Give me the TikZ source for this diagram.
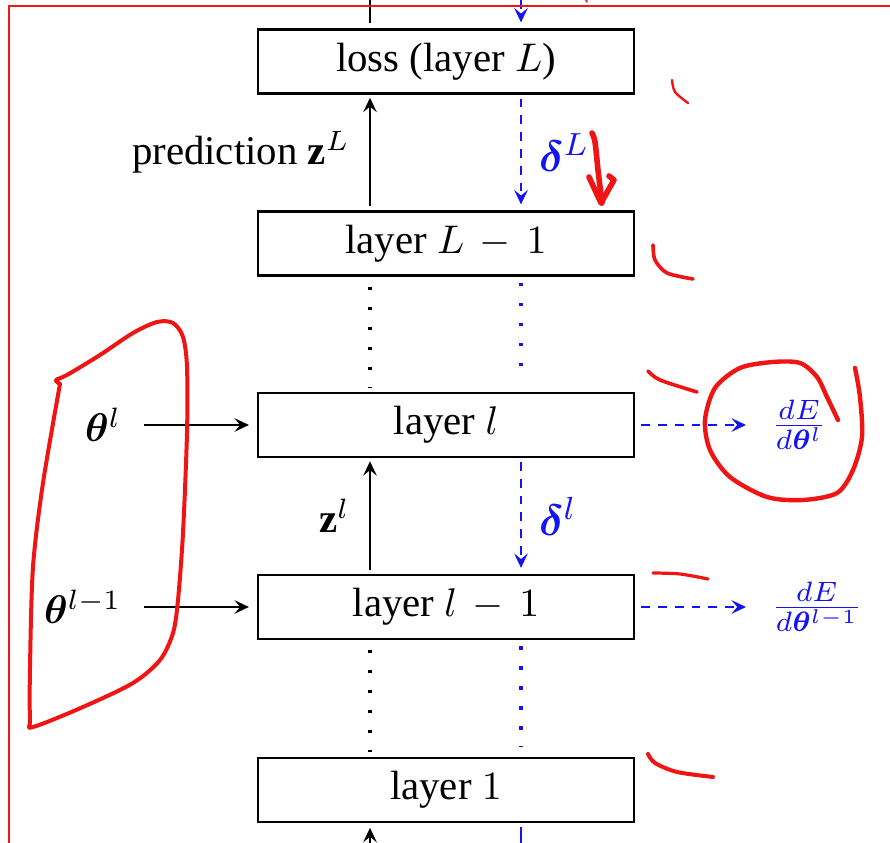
\documentclass[tikz,border=0pt]{standalone}
\usepackage{amsmath}
\usepackage{amssymb}
\usepackage{bm}
\usepackage{fontspec}
\setmainfont{Liberation Serif}
\usepackage{tikz}
\usetikzlibrary{arrows.meta}
\usepackage{xcolor}
\definecolor{inkred}{RGB}{240,20,20}
\definecolor{gradblue}{RGB}{20,20,240}

\begin{document}
\begin{tikzpicture}[x=0.25pt, y=-0.25pt,
  font=\fontsize{10.2}{12.5}\selectfont,
  >={Stealth[length=3.6pt, width=3.4pt, inset=1.4pt]},
  layerbox/.style={draw, line width=0.55pt, minimum width=94pt,
                   minimum height=16pt, inner sep=0pt},
  fwd/.style={->, line width=0.45pt},
  bwd/.style={->, gradblue, line width=0.45pt, dash pattern=on 2.2pt off 2pt},
  skipfwd/.style={line width=0.8pt, dash pattern=on 0.8pt off 4.2pt},
  skipbwd/.style={skipfwd, gradblue},
  errlabel/.style={font=\fontsize{11}{13}\selectfont},
  ink/.style={inkred, line width=1pt, line cap=round, line join=round}]
  \useasboundingbox (0,0) rectangle (890,843);

  % Layers
  \node[layerbox] (loss)  at (446,61.5) {loss (layer $L$)};
  \node[layerbox] (layLm) at (446,243.5) {layer $L\,-\,1$};
  \node[layerbox] (layl)  at (446,425) {layer $l$};
  \node[layerbox] (laylm) at (446,607) {layer $l\,-\,1$};
  \node[layerbox] (lay1)  at (446,790) {layer $1$};

  % Columns of the forward and backward pass
  \coordinate (zcol) at (370,0);
  \coordinate (dcol) at (521,0);
  \coordinate (zbot) at (370,843);
  \coordinate (dbot) at (521,843);

  % Forward pass (black)
  \draw[line width=0.45pt, shorten <=1.25pt] (loss.north -| zcol) -- (zcol);
  \draw[fwd, shorten <=1pt, shorten >=0.8pt] (layLm.north -| zcol) -- (loss.south -| zcol)
    node[midway, left=1.5pt] {prediction $\mathbf{z}^L$};
  \draw[skipfwd, shorten <=2.5pt, shorten >=1.2pt] (layLm.south -| zcol) -- (layl.north -| zcol);
  \draw[fwd, shorten <=1pt, shorten >=0.8pt] (laylm.north -| zcol) -- (layl.south -| zcol)
    node[midway, left=1.5pt] {$\mathbf{z}^l$};
  \draw[skipfwd, shorten <=2.5pt, shorten >=1.2pt] (laylm.south -| zcol) -- (lay1.north -| zcol);
  \draw[fwd, shorten >=1.2pt] (zbot) -- (lay1.south -| zbot);

  % Backward pass (blue)
  \draw[bwd, shorten >=1.5pt] (dcol) -- (loss.north -| dcol);
  \draw[bwd, shorten <=1pt, shorten >=1.5pt] (loss.south -| dcol) -- (layLm.north -| dcol)
    node[midway, right=1pt, errlabel] {$\boldsymbol{\delta}^L$};
  \draw[skipbwd, shorten <=1.6pt, shorten >=2.5pt] (layLm.south -| dcol) -- (layl.north -| dcol);
  \draw[bwd, shorten <=1pt, shorten >=1.5pt] (layl.south -| dcol) -- (laylm.north -| dcol)
    node[midway, right=1pt, errlabel] {$\boldsymbol{\delta}^l$};
  \draw[skipbwd, shorten <=1.6pt, shorten >=2.5pt] (laylm.south -| dcol) -- (lay1.north -| dcol);
  \draw[gradblue, line width=0.45pt, shorten <=1pt] (lay1.south -| dbot) -- (dbot);

  % Parameters
  \node[anchor=east, inner sep=0pt] (thl)  at (122,425) {$\boldsymbol{\theta}^l$};
  \node[anchor=east, inner sep=0pt] (thlm) at (122,607) {$\boldsymbol{\theta}^{l-1}$};
  \draw[fwd, shorten <=5.5pt, shorten >=2pt] (thl.east) -- (layl.west);
  \draw[fwd, shorten <=5.5pt, shorten >=2pt] (thlm.east) -- (laylm.west);

  % Gradients
  \node[anchor=west, inner sep=0pt, gradblue] (gradl)  at (770,425)
    {$\frac{dE}{d\boldsymbol{\theta}^l}$};
  \node[anchor=west, inner sep=0pt, gradblue] (gradlm) at (770,607)
    {$\frac{dE}{d\boldsymbol{\theta}^{l-1}}$};
  \draw[bwd, shorten <=1.5pt, shorten >=6pt] (layl.east) -- (gradl.west);
  \draw[bwd, shorten <=1.5pt, shorten >=6pt] (laylm.east) -- (gradlm.west);

  % Red frame and hand-drawn marks
  \draw[inkred, line width=0.4pt] (9,843) -- (9,6) -- (890,6);
  \draw[ink, line width=0.4pt] (586,0) -- (587,2);
  \draw[ink, line width=0.6pt] plot[smooth] coordinates {(672,80) (675,92) (688,103)};
  \draw[ink, line width=1.4pt] plot[smooth] coordinates {(592,133) (595,142) (598,170) (602,203)};
  \draw[ink, line width=1.4pt] (589,177) -- (601,203) -- (614,180) -- (609,176);
  \draw[ink, line width=0.9pt] plot[smooth] coordinates {(653,245) (655,260) (667,273) (693,279)};
  \draw[ink, line width=0.9pt] plot[smooth] coordinates {(648,371) (660,380) (697,392)};
  \draw[ink, line width=1.1pt] plot[smooth] coordinates {(838,420) (827,397) (817,377) (800,363)
    (773,362) (740,368) (715,388) (705,420) (710,450) (730,477) (767,497) (803,500)
    (837,493) (853,470) (862,437) (860,397) (855,368)};
  \draw[ink, line width=0.8pt] plot[smooth] coordinates {(653,573) (680,574) (708,579)};
  \draw[ink, line width=1pt] plot[smooth] coordinates {(648,754) (655,763) (677,772) (713,777)};
  \draw[ink, line width=1pt] plot[smooth] coordinates {(60,384) (56,380) (67,375) (100,355)
    (133,333) (157,322) (173,323) (183,337) (187,367) (187,433) (183,533) (178,600)
    (173,633) (160,660) (133,683) (83,707) (33,727) (30,720) (30,667) (33,567)
    (43,483) (60,384)};
\end{tikzpicture}
\end{document}
